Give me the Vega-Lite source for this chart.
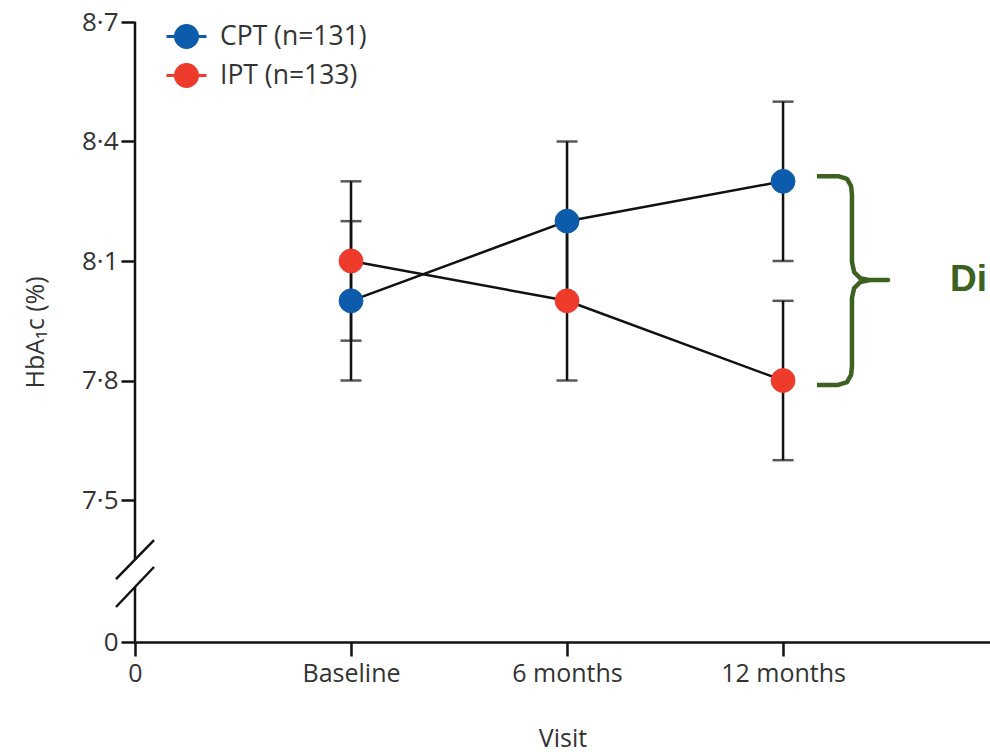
{
  "$schema": "https://vega.github.io/schema/vega-lite/v6.json",
  "width": 855,
  "height": 620,
  "autosize": {"type": "none"},
  "padding": {"left": 135, "top": 22, "right": 0, "bottom": 110},
  "background": "white",
  "config": {
    "view": {"stroke": null},
    "font": "Open Sans",
    "axis": {
      "grid": false,
      "domainColor": "#111",
      "domainWidth": 2.5,
      "tickColor": "#111",
      "tickWidth": 2.5,
      "tickSize": 14,
      "labelFlush": false,
      "labelColor": "#333",
      "labelFontSize": 25,
      "labelFont": "Open Sans",
      "titleFont": "Open Sans",
      "titleColor": "#333",
      "titleFontWeight": "normal"
    }
  },
  "datasets": {
    "hba1c": [
      {"visit": 1, "group": "CPT (n=131)", "mean": 8.0, "lo": 7.8, "hi": 8.2},
      {"visit": 2, "group": "CPT (n=131)", "mean": 8.2, "lo": 8.0, "hi": 8.4},
      {"visit": 3, "group": "CPT (n=131)", "mean": 8.3, "lo": 8.1, "hi": 8.5},
      {"visit": 1, "group": "IPT (n=133)", "mean": 8.1, "lo": 7.9, "hi": 8.3},
      {"visit": 2, "group": "IPT (n=133)", "mean": 8.0, "lo": 7.8, "hi": 8.2},
      {"visit": 3, "group": "IPT (n=133)", "mean": 7.8, "lo": 7.6, "hi": 8.0}
    ],
    "brace": [
      {"i": 1, "x": 3.157, "y": 8.313},
      {"i": 2, "x": 3.255, "y": 8.313},
      {"i": 3, "x": 3.296, "y": 8.306},
      {"i": 4, "x": 3.315, "y": 8.288},
      {"i": 5, "x": 3.319, "y": 8.266},
      {"i": 6, "x": 3.319, "y": 8.098},
      {"i": 7, "x": 3.329, "y": 8.072},
      {"i": 8, "x": 3.357, "y": 8.057},
      {"i": 9, "x": 3.403, "y": 8.052},
      {"i": 10, "x": 3.486, "y": 8.052},
      {"i": 11, "x": 3.403, "y": 8.052},
      {"i": 12, "x": 3.357, "y": 8.047},
      {"i": 13, "x": 3.329, "y": 8.032},
      {"i": 14, "x": 3.319, "y": 8.007},
      {"i": 15, "x": 3.319, "y": 7.836},
      {"i": 16, "x": 3.315, "y": 7.814},
      {"i": 17, "x": 3.296, "y": 7.796},
      {"i": 18, "x": 3.255, "y": 7.789},
      {"i": 19, "x": 3.157, "y": 7.789}
    ],
    "axisline": [
      {"y": 8.7, "y2": 4.331},
      {"y": 2.905, "y2": 0}
    ],
    "breaks": [
      {"x": -0.088, "x2": 0.088, "y": 3.327, "y2": 5.387},
      {"x": -0.088, "x2": 0.088, "y": 1.849, "y2": 3.961}
    ],
    "note": [
      {"x": 3.773, "y": 8.052, "text": "Di"}
    ]
  },
  "layer": [
    {
      "data": {"name": "hba1c"},
      "mark": {"type": "rule", "color": "#111", "strokeWidth": 2.5},
      "encoding": {
        "x": {
          "field": "visit",
          "type": "quantitative",
          "scale": {"domain": [0, 3.958], "nice": false, "zero": false},
          "axis": {
            "values": [0, 1, 2, 3],
            "labelExpr": "datum.value == 0 ? '0' : datum.value == 1 ? 'Baseline' : datum.value == 2 ? '6 months' : '12 months'",
            "labelPadding": 5,
            "title": "Visit",
            "titleFontSize": 25,
            "titlePadding": 40
          }
        },
        "y": {
          "field": "lo",
          "type": "quantitative",
          "scale": {"domain": [0, 7.5, 8.7], "range": [620, 478, 0], "nice": false, "zero": false},
          "axis": {
            "values": [0, 7.5, 7.8, 8.1, 8.4, 8.7],
            "labelExpr": "datum.value == 0 ? '0' : replace(format(datum.value, '.1f'), '.', '·')",
            "domain": false,
            "labelPadding": 3,
            "labelFontSize": 26,
            "title": "HbA₁c (%)",
            "titleFontSize": 25,
            "titlePadding": 33
          }
        },
        "y2": {"field": "hi"}
      }
    },
    {
      "data": {"name": "hba1c"},
      "mark": {"type": "tick", "orient": "horizontal", "color": "#111", "size": 21, "thickness": 2.5},
      "encoding": {
        "x": {"field": "visit", "type": "quantitative"},
        "y": {"field": "lo", "type": "quantitative"}
      }
    },
    {
      "data": {"name": "hba1c"},
      "mark": {"type": "tick", "orient": "horizontal", "color": "#111", "size": 21, "thickness": 2.5},
      "encoding": {
        "x": {"field": "visit", "type": "quantitative"},
        "y": {"field": "hi", "type": "quantitative"}
      }
    },
    {
      "data": {"name": "hba1c"},
      "mark": {"type": "line", "color": "#111", "strokeWidth": 2.5},
      "encoding": {
        "x": {"field": "visit", "type": "quantitative"},
        "y": {"field": "mean", "type": "quantitative"},
        "detail": {"field": "group"}
      }
    },
    {
      "data": {"name": "hba1c"},
      "mark": {"type": "point", "filled": true, "size": 570, "opacity": 1, "strokeWidth": 1},
      "encoding": {
        "x": {"field": "visit", "type": "quantitative"},
        "y": {"field": "mean", "type": "quantitative"},
        "fill": {
          "field": "group",
          "type": "nominal",
          "scale": {"domain": ["CPT (n=131)", "IPT (n=133)"], "range": ["#0c5cab", "#ee3b2c"]},
          "legend": {
            "orient": "none",
            "legendX": 30,
            "legendY": -7,
            "title": null,
            "padding": 0,
            "symbolType": "M-1,0L1,0M0.55,0A0.55,0.55,0,1,1,-0.55,0A0.55,0.55,0,1,1,0.55,0Z",
            "symbolSize": 1600,
            "symbolStrokeWidth": 3,
            "labelFontSize": 26.5,
            "labelFont": "Open Sans",
            "labelColor": "#333",
            "labelOffset": 12,
            "rowPadding": -1
          }
        },
        "stroke": {
          "field": "group",
          "type": "nominal",
          "scale": {"domain": ["CPT (n=131)", "IPT (n=133)"], "range": ["#0c5cab", "#ee3b2c"]},
          "legend": {
            "orient": "none",
            "legendX": 30,
            "legendY": -7,
            "title": null,
            "padding": 0,
            "symbolType": "M-1,0L1,0M0.55,0A0.55,0.55,0,1,1,-0.55,0A0.55,0.55,0,1,1,0.55,0Z",
            "symbolSize": 1600,
            "symbolStrokeWidth": 3,
            "labelFontSize": 26.5,
            "labelFont": "Open Sans",
            "labelColor": "#333",
            "labelOffset": 12,
            "rowPadding": -1
          }
        }
      }
    },
    {
      "data": {"name": "axisline"},
      "mark": {"type": "rule", "color": "#111", "strokeWidth": 2.5},
      "encoding": {
        "x": {"datum": 0, "type": "quantitative"},
        "y": {"field": "y", "type": "quantitative"},
        "y2": {"field": "y2"}
      }
    },
    {
      "data": {"name": "breaks"},
      "mark": {"type": "rule", "color": "#111", "strokeWidth": 2.5},
      "encoding": {
        "x": {"field": "x", "type": "quantitative"},
        "x2": {"field": "x2"},
        "y": {"field": "y", "type": "quantitative"},
        "y2": {"field": "y2"}
      }
    },
    {
      "data": {"name": "brace"},
      "mark": {"type": "line", "color": "#3d6121", "strokeWidth": 4.5, "strokeJoin": "round", "strokeCap": "butt", "interpolate": "linear"},
      "encoding": {
        "x": {"field": "x", "type": "quantitative"},
        "y": {"field": "y", "type": "quantitative"},
        "order": {"field": "i", "type": "quantitative"}
      }
    },
    {
      "data": {"name": "note"},
      "mark": {"type": "text", "color": "#3d6121", "font": "Liberation Sans", "fontWeight": "bold", "fontSize": 37, "align": "left", "baseline": "middle"},
      "encoding": {
        "x": {"field": "x", "type": "quantitative"},
        "y": {"field": "y", "type": "quantitative"},
        "text": {"field": "text"}
      }
    }
  ]
}
